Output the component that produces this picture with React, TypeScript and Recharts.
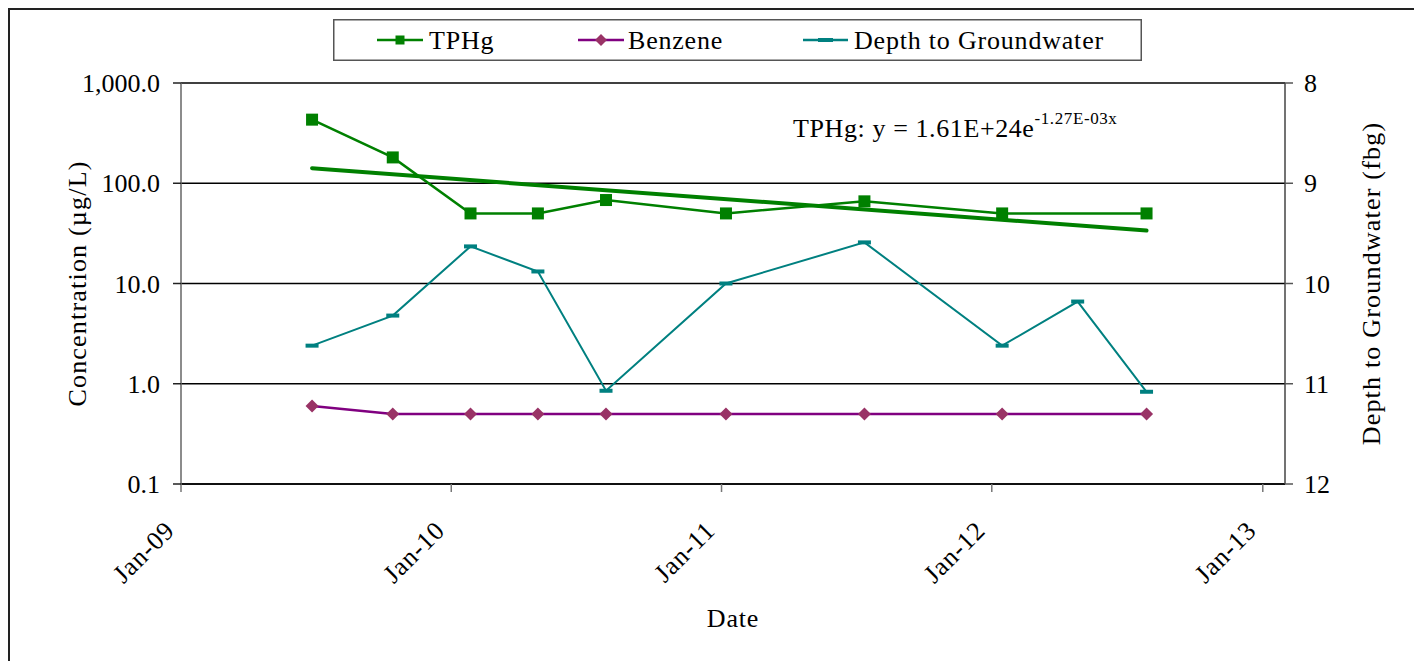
import React from 'react';
import {
  ComposedChart,
  Line,
  XAxis,
  YAxis,
  CartesianGrid,
  Legend,
  Label,
  Customized,
} from 'recharts';

// Monitoring well sampling events
const sampleDates = [
  '2009-06-27',
  '2009-10-14',
  '2010-01-27',
  '2010-04-28',
  '2010-07-29',
  '2011-01-07',
  '2011-07-13',
  '2012-01-15',
  '2012-04-26',
  '2012-07-28',
];
const tphgValues = [431, 181, 50, 50, 68, 50, 66, 50, null, 50];
const benzeneValues = [0.6, 0.5, 0.5, 0.5, 0.5, 0.5, 0.5, 0.5, null, 0.5];
const depthValues = [10.62, 10.32, 9.63, 9.88, 11.07, 10.0, 9.59, 10.62, 10.18, 11.08];

const concTicks = [0.1, 1, 10, 100, 1000];
const depthTicks = [8, 9, 10, 11, 12];
const yearTickDates = ['2009-01-01', '2010-01-01', '2011-01-01', '2012-01-01', '2013-01-01'];
const xDomainDates = ['2009-01-01', '2013-01-31'];

// Exponential trendline coefficients (x = Excel date serial)
const trendA = 1.61e24;
const trendB = -1.27e-3;

const FONT = "'Liberation Serif', 'Times New Roman', serif";
const GREEN = '#008000';
const PURPLE = '#800080';
const PLUM = '#993366';
const TEAL = '#008080';
const LEGEND_H = 42;

const toMs = (d: string) => Date.parse(d + 'T00:00:00Z');
const excelSerial = (ms: number) => (ms - Date.UTC(1899, 11, 30)) / 86400000;
const MONTHS = ['Jan', 'Feb', 'Mar', 'Apr', 'May', 'Jun', 'Jul', 'Aug', 'Sep', 'Oct', 'Nov', 'Dec'];

const rows = sampleDates.map((d, i) => ({
  t: toMs(d),
  tphg: tphgValues[i],
  benzene: benzeneValues[i],
  depth: depthValues[i],
}));

const tphgDates = sampleDates.filter((_, i) => tphgValues[i] != null).map(toMs);
const trendRows = [tphgDates[0], tphgDates[tphgDates.length - 1]].map((t) => ({
  t,
  trend: trendA * Math.exp(trendB * excelSerial(t)),
}));

const fmtConc = (v: number) =>
  v.toLocaleString('en-US', { minimumFractionDigits: 1, maximumFractionDigits: 1 });

const fmtDate = (ms: number) => {
  const d = new Date(ms);
  return `${MONTHS[d.getUTCMonth()]}-${String(d.getUTCFullYear() % 100).padStart(2, '0')}`;
};

const SquareDot = (p: any) => {
  if (p.value == null || p.cy == null) return <g key={p.key} />;
  return <rect key={p.key} x={p.cx - 6} y={p.cy - 6} width={12} height={12} fill={GREEN} />;
};

const DiamondDot = (p: any) => {
  if (p.value == null || p.cy == null) return <g key={p.key} />;
  const { cx, cy } = p;
  return (
    <path
      key={p.key}
      d={`M${cx},${cy - 6.5} L${cx + 6.5},${cy} L${cx},${cy + 6.5} L${cx - 6.5},${cy} Z`}
      fill={PLUM}
    />
  );
};

const DashDot = (p: any) => {
  if (p.value == null || p.cy == null) return <g key={p.key} />;
  return <rect key={p.key} x={p.cx - 6.5} y={p.cy - 2} width={13} height={4} fill={TEAL} />;
};

// rotated year labels hang off the tick
const DateTick = ({ x, y, payload }: any) => {
  const tx = x - 5;
  const ty = y + 40;
  return (
    <text
      x={tx}
      y={ty}
      transform={`rotate(-45, ${tx}, ${ty})`}
      textAnchor="end"
      fontFamily={FONT}
      fontSize={26}
      letterSpacing={0.8}
      fill="#000"
    >
      {fmtDate(payload.value)}
    </text>
  );
};

const LegendBox = () => (
  <svg width={809} height={LEGEND_H} style={{ display: 'block' }}>
    <rect x={0.75} y={0.75} width={807.5} height={40.5} fill="#fff" stroke="#555" strokeWidth={1.5} />
    <g fontFamily={FONT} fontSize={26} fill="#000" letterSpacing={0.8}>
      <line x1={44} x2={90} y1={21} y2={21} stroke={GREEN} strokeWidth={2.5} />
      <rect x={62.5} y={16.5} width={9} height={9} fill={GREEN} />
      <text x={96} y={30}>TPHg</text>

      <line x1={245} x2={291} y1={21} y2={21} stroke={PURPLE} strokeWidth={2.5} />
      <path d="M268,15 L274,21 L268,27 L262,21 Z" fill={PLUM} />
      <text x={295} y={30}>Benzene</text>

      <line x1={470} x2={515} y1={21} y2={21} stroke={TEAL} strokeWidth={2.5} />
      <rect x={485} y={19} width={15} height={4} fill={TEAL} />
      <text x={521} y={30}>Depth to Groundwater</text>
    </g>
  </svg>
);

const TrendEquation = () => (
  <text x={783} y={127} fontFamily={FONT} fontSize={26} letterSpacing={0.6} fill="#000">
    TPHg: y = 1.61E+24e
    <tspan dy={-13} fontSize={17}>-1.27E-03x</tspan>
  </text>
);

export default function App() {
  return (
    <div
      style={{
        width: 1404,
        height: 660,
        overflow: 'hidden',
        borderTop: '2px solid #222',
        borderLeft: '2px solid #222',
        borderRight: '2px solid #222',
        background: '#fff',
      }}
    >
      <style>{'html, body { overflow: hidden; }'}</style>
      <ComposedChart
        width={1404}
        height={651 + LEGEND_H}
        data={rows}
        margin={{ top: 73, right: 0, bottom: 0, left: 0 }}
        style={{ fontFamily: FONT }}
      >
        <CartesianGrid vertical={false} yAxisId="conc" stroke="#000" strokeWidth={1.5} />
        <XAxis
          dataKey="t"
          type="number"
          domain={xDomainDates.map(toMs)}
          ticks={yearTickDates.map(toMs)}
          allowDataOverflow
          height={177}
          tickSize={8}
          tickMargin={0}
          axisLine={{ stroke: '#000', strokeWidth: 1.5 }}
          tickLine={{ stroke: '#777', strokeWidth: 1.5 }}
          tick={<DateTick />}
        >
          <Label
            content={({ viewBox }: any) => (
              <text
                x={viewBox.x + viewBox.width / 2}
                y={viewBox.y + 143}
                textAnchor="middle"
                fontFamily={FONT}
                fontSize={26}
                letterSpacing={0.8}
                fill="#000"
              >
                Date
              </text>
            )}
          />
        </XAxis>
        <YAxis
          yAxisId="conc"
          scale="log"
          domain={[0.1, 1000]}
          ticks={concTicks}
          allowDataOverflow
          width={171}
          tickSize={8}
          tickMargin={13}
          tickFormatter={fmtConc}
          axisLine={{ stroke: '#666', strokeWidth: 1.5 }}
          tickLine={{ stroke: '#222', strokeWidth: 1.5 }}
          tick={{ fill: '#000', fontSize: 26, fontFamily: FONT }}
        >
          <Label
            content={({ viewBox }: any) => {
              const cx = 76;
              const cy = viewBox.y + viewBox.height / 2;
              return (
                <text
                  x={cx}
                  y={cy}
                  transform={`rotate(-90, ${cx}, ${cy})`}
                  textAnchor="middle"
                  fontFamily={FONT}
                  fontSize={26}
                  letterSpacing={1.2}
                  fill="#000"
                >
                  Concentration (µg/L)
                </text>
              );
            }}
          />
        </YAxis>
        <YAxis
          yAxisId="depth"
          orientation="right"
          domain={[8, 12]}
          ticks={depthTicks}
          reversed
          allowDataOverflow
          width={129}
          tickSize={8}
          tickMargin={11}
          axisLine={{ stroke: '#444', strokeWidth: 1.5 }}
          tickLine={{ stroke: '#555', strokeWidth: 1.5 }}
          tick={{ fill: '#000', fontSize: 26, fontFamily: FONT }}
        >
          <Label
            content={({ viewBox }: any) => {
              const cx = viewBox.x + 95;
              const cy = viewBox.y + viewBox.height / 2;
              return (
                <text
                  x={cx}
                  y={cy}
                  transform={`rotate(-90, ${cx}, ${cy})`}
                  textAnchor="middle"
                  fontFamily={FONT}
                  fontSize={26}
                  letterSpacing={1.2}
                  fill="#000"
                >
                  Depth to Groundwater (fbg)
                </text>
              );
            }}
          />
        </YAxis>
        <Legend
          content={<LegendBox />}
          height={LEGEND_H}
          wrapperStyle={{ position: 'absolute', top: 9, left: 323, width: 809, height: LEGEND_H }}
        />

        <Line
          yAxisId="depth"
          dataKey="depth"
          name="Depth to Groundwater"
          stroke={TEAL}
          strokeWidth={2}
          dot={DashDot}
          activeDot={false}
          connectNulls
          isAnimationActive={false}
        />
        <Line
          yAxisId="conc"
          dataKey="benzene"
          name="Benzene"
          stroke={PURPLE}
          strokeWidth={2.5}
          dot={DiamondDot}
          activeDot={false}
          connectNulls
          isAnimationActive={false}
        />
        <Line
          yAxisId="conc"
          dataKey="tphg"
          name="TPHg"
          stroke={GREEN}
          strokeWidth={2.5}
          dot={SquareDot}
          activeDot={false}
          connectNulls
          isAnimationActive={false}
        />
        <Line
          yAxisId="conc"
          data={trendRows}
          dataKey="trend"
          legendType="none"
          stroke={GREEN}
          strokeWidth={4}
          strokeLinecap="round"
          dot={false}
          activeDot={false}
          isAnimationActive={false}
        />
        <Customized component={TrendEquation} />
      </ComposedChart>
    </div>
  );
}
